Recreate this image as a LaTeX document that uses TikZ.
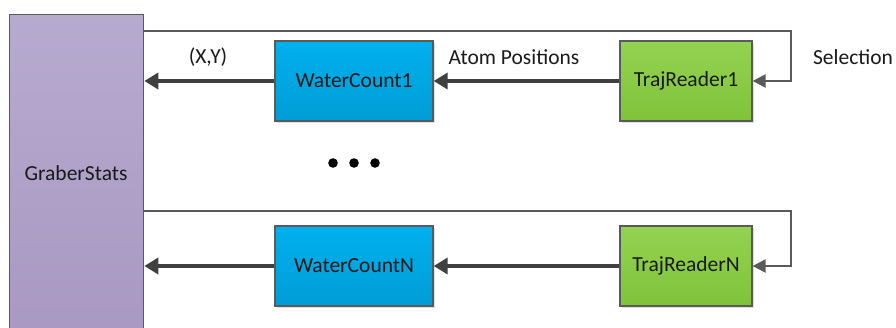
\documentclass[tikz,border=0pt]{standalone}
\usepackage{fontspec}
\setmainfont{Carlito}
\usetikzlibrary{arrows.meta,shadows}
\definecolor{edgegray}{HTML}{5A5A5A}
\definecolor{arrowgray}{HTML}{404040}
\definecolor{txt}{HTML}{1A1A1A}
\tikzset{
  box/.style={draw=edgegray, line width=1.3pt, minimum height=80pt, inner sep=0pt,
    font=\fontsize{21.5}{26}\selectfont, text=txt,
    drop shadow={shadow xshift=2pt, shadow yshift=-2pt, fill=black!25, opacity=0.5}},
  wc/.style={box, minimum width=158pt, top color=blue1, bottom color=blue2},
  tr/.style={box, minimum width=132pt, top color=green1, bottom color=green2},
  flow/.style={draw=arrowgray, line width=4pt, -{Triangle[length=14pt,width=16pt]}},
  sel/.style={draw=edgegray, line width=2.4pt, -{Triangle[length=13pt,width=13pt]}},
  lbl/.style={font=\fontsize{21.5}{26}\selectfont, text=txt},
}
\definecolor{blue1}{HTML}{00B0EE}
\definecolor{blue2}{HTML}{009DD6}
\definecolor{green1}{HTML}{94D252}
\definecolor{green2}{HTML}{80C33A}
\definecolor{purple1}{HTML}{B7AACF}
\definecolor{purple2}{HTML}{A898C2}
\begin{document}
\begin{tikzpicture}[x=1pt,y=-1pt]
\useasboundingbox (0,0) rectangle (896,327);
\fill[white] (0,0) rectangle (896,327);
\node[draw=edgegray, line width=1.3pt, top color=purple1, bottom color=purple2,
  minimum width=134pt, minimum height=330pt, inner sep=0pt, anchor=north west] (gs) at (9,14) {};
\node[lbl] (gstxt) at (76,173) {GraberStats};
\node[wc] (wc1) at (354,81) {WaterCount1};
\node[tr] (tr1) at (686,81) {TrajReader1};
\node[wc] (wcn) at (354,266) {WaterCountN};
\node[tr] (trn) at (686,266) {TrajReaderN};
\coordinate (c1) at (791,31);
\coordinate (cn) at (791,211);
\draw[sel] (gs.east |- c1) -- (c1) |- (tr1.east);
\draw[sel] (gs.east |- cn) -- (cn) |- (trn.east);
\draw[flow] (wc1.west) -- (gs.east |- wc1.west);
\draw[flow] (tr1.west) -- (wc1.east);
\draw[flow] (wcn.west) -- (gs.east |- wcn.west);
\draw[flow] (trn.west) -- (wcn.east);
\node[lbl] (xy) at (208,57) {(X,Y)};
\node[lbl] (ap) at (514,57) {Atom Positions};
\node[lbl] (sl) at (853,57) {Selection};
\fill[black] (333,163) circle (4.8pt) (354,163) circle (4.8pt) (375,163) circle (4.8pt);
\end{tikzpicture}
\end{document}
